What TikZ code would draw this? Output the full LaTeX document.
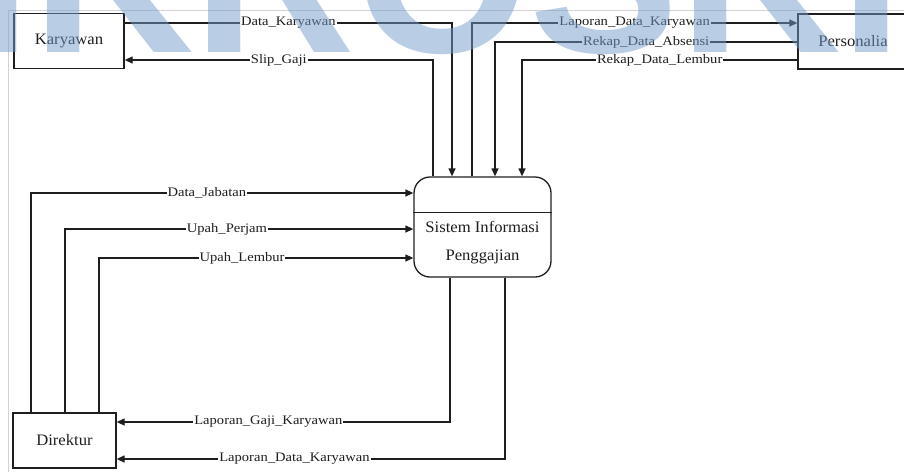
\documentclass[tikz,border=0pt]{standalone}
\usepackage{fontspec}
\setmainfont{Liberation Serif}
\newfontfamily\lblfont[FakeStretch=1.12]{Liberation Serif}
\newfontfamily\boxfont[FakeStretch=1.04]{Liberation Serif}
\newfontfamily\wmfont{Liberation Sans}
\usetikzlibrary{arrows.meta}
\definecolor{wm}{RGB}{115,155,201}
\definecolor{ln}{RGB}{30,30,30}
\begin{document}
\begin{tikzpicture}[x=1pt,y=-1pt,
  flow/.style={line width=1.3pt, draw=ln},
  arr/.style={flow, -{Triangle[length=8pt,width=7pt]}},
  lbl/.style={fill=white, inner sep=1pt, text=ln, font=\lblfont\fontsize{13}{13}\selectfont},
  ent/.style={draw=ln, line width=1.3pt, minimum width=110pt, minimum height=55pt, inner sep=0, text=ln, font=\boxfont\fontsize{16}{16}\selectfont},
  procbox/.style={draw=ln, line width=1.3pt, rounded corners=16pt, minimum width=137pt, minimum height=100pt, inner sep=0}]
\useasboundingbox (0,0) rectangle (904,472);
% page border
\draw[gray!35, line width=0.8pt] (8,472) -- (8,10) -- (904,10);
% entities
\node[ent] (kar) at (69,41) {Karyawan};
\node[ent] (per) at (853,41.5) {Personalia};
\node[ent, minimum width=103pt] (dir) at (64.5,440.5) {Direktur};
% process
\node[procbox] (sip) at (482.5,227) {};
\path (sip.north west) ++(0,36) coordinate (d1);
\path (sip.north east) ++(0,36) coordinate (d2);
\draw[flow] (d1) -- (d2);
\node[align=center, text=ln, font=\boxfont\fontsize{16}{28}\selectfont] (siptxt) at (482.5,243) {Sistem Informasi\\Penggajian};
% Karyawan flows
\draw[arr] (kar.east |- 0,23) -- node[lbl]{Data\_Karyawan} (452,23) -- (452,0 |- sip.north);
\draw[arr] (433,0 |- sip.north) -- (433,60) -- node[lbl]{Slip\_Gaji} (kar.east |- 0,60);
% Personalia flows
\draw[arr] (472,0 |- sip.north) -- (472,23) -- node[lbl]{Laporan\_Data\_Karyawan} (per.west |- 0,23);
\draw[arr] (per.west |- 0,42) -- node[lbl]{Rekap\_Data\_Absensi} (495,42) -- (495,0 |- sip.north);
\draw[arr] (per.west |- 0,60) -- node[lbl]{Rekap\_Data\_Lembur} (522,60) -- (522,0 |- sip.north);
% Direktur flows
\draw[arr] (31,0 |- dir.north) -- (31,193) -- node[lbl,pos=0.46]{Data\_Jabatan} (sip.west |- 0,193);
\draw[arr] (65,0 |- dir.north) -- (65,229) -- node[lbl,pos=0.465]{Upah\_Perjam} (sip.west |- 0,229);
\draw[arr] (99,0 |- dir.north) -- (99,258) -- node[lbl,pos=0.455]{Upah\_Lembur} (sip.west |- 0,258);
\draw[arr] (450,0 |- sip.south) -- (450,422) -- node[lbl,pos=0.545]{Laporan\_Gaji\_Karyawan} (dir.east |- 0,422);
\draw[arr] (505,0 |- sip.south) -- (505,459) -- node[lbl,pos=0.542]{Laporan\_Data\_Karyawan} (dir.east |- 0,459);
% watermark
\node[anchor=base west, inner sep=0, text=wm, opacity=0.5, font=\wmfont\bfseries\fontsize{224}{224}\selectfont] (wmk) at (-217,52) {MIKROSKIL};
\end{tikzpicture}
\end{document}
